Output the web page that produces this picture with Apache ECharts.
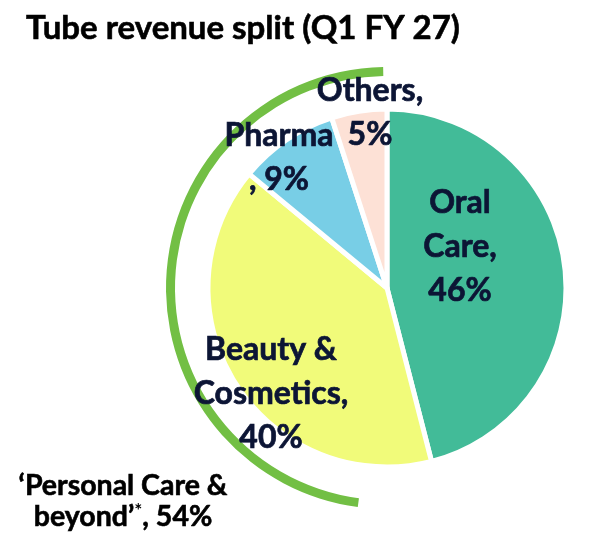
<!DOCTYPE html>
<html>
<head>
<meta charset="utf-8">
<script src="https://cdn.jsdelivr.net/npm/echarts@6/dist/echarts.min.js"></script>
<style>
    html, body { margin: 0; padding: 0; background: #fff; }
    #chart { width: 614px; height: 553px; }
</style>
</head>
<body>
<div id="chart"></div>
<script>
// 数据
const categories = ['Oral Care', 'Beauty & Cosmetics', 'Pharma', 'Others'];
const shares = [46, 40, 9, 5];
const labelNames = ['Oral\nCare', 'Beauty &\nCosmetics', 'Pharma\n', 'Others'];
const labelSeps = ['\n', '\n', ' ', '\n'];
const groupName = 'Personal Care & beyond';

// 样式
const colors = ['#42bb98', '#f1fb7a', '#78cee6', '#fde1d6'];
const labelSpots = [[460, 247], [271, 394], [279, 158], [370, 113]];
const groupSpot = [123, 501];
const FONT = 'Lato, "Open Sans", sans-serif';
const NAVY = '#0c1535';

// “Personal Care & beyond” = everything but Oral Care
const groupShare = shares.slice(1).reduce((a, b) => a + b, 0);

const chart = echarts.init(document.getElementById('chart'));

chart.setOption({
    animation: false,
    title: {
        text: 'Tube revenue split (Q1 FY 27)',
        left: 21,
        top: 7,
        textStyle: {
            fontFamily: FONT, fontWeight: 'bold', fontSize: 33, color: '#000',
            textBorderColor: '#000', textBorderWidth: 0.6
        }
    },
    series: [
        {
            type: 'pie',
            name: 'split',
            center: [387, 288],
            radius: [0, 179],
            startAngle: 90,
            clockwise: true,
            avoidLabelOverlap: false,
            silent: true,
            itemStyle: { borderColor: '#fff', borderWidth: 5 },
            label: {
                show: true,
                position: 'inside',
                fontFamily: FONT,
                fontWeight: 'bold',
                fontSize: 32,
                lineHeight: 44,
                color: NAVY,
                textBorderColor: NAVY,
                textBorderWidth: 0.7,
                align: 'center',
                formatter: p => `${labelNames[p.dataIndex]},${labelSeps[p.dataIndex]}${p.value}%`
            },
            labelLine: { show: false },
            labelLayout: p => ({
                x: labelSpots[p.dataIndex][0],
                y: labelSpots[p.dataIndex][1],
                align: 'center',
                verticalAlign: 'middle'
            }),
            data: categories.map((c, i) => ({
                name: c,
                value: shares[i],
                itemStyle: { color: colors[i] }
            }))
        },
        {
            // 外圈绿色弧线
            type: 'pie',
            name: 'group',
            center: [387, 288],
            radius: [212, 221],
            startAngle: 91,
            endAngle: 262.4,
            clockwise: false,
            silent: true,
            itemStyle: { color: '#72bf44' },
            label: {
                show: true,
                position: 'inside',
                align: 'center',
                formatter: p => `{a|\u2018Personal Care &}\n{a|beyond\u2019}{s|*}{a|, ${p.value}%}`,
                rich: {
                    a: {
                        fontFamily: FONT, fontWeight: 'bold', fontSize: 28.5, lineHeight: 31, color: '#000',
                        textBorderColor: '#000', textBorderWidth: 0.6
                    },
                    s: {
                        fontFamily: FONT, fontWeight: 'bold', fontSize: 19, lineHeight: 31, color: '#000',
                        verticalAlign: 'top', padding: [0, 0, 8, 0]
                    }
                }
            },
            labelLine: { show: false },
            labelLayout: () => ({
                x: groupSpot[0],
                y: groupSpot[1],
                align: 'center',
                verticalAlign: 'middle'
            }),
            data: [{ name: groupName, value: groupShare }]
        }
    ]
});

window.addEventListener('resize', () => chart.resize());
</script>
</body>
</html>
